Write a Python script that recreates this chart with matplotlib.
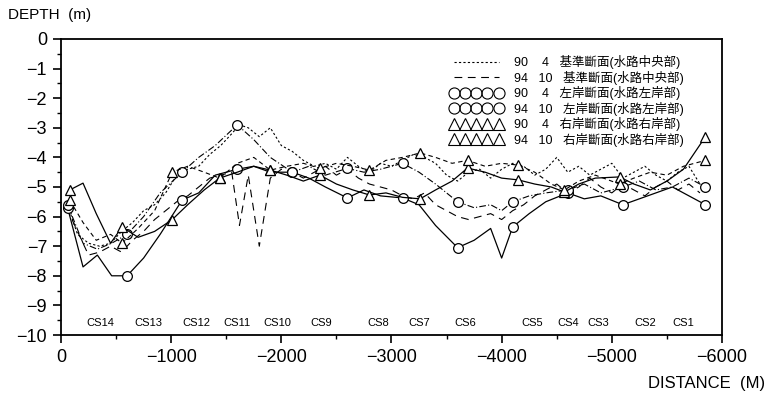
import matplotlib
matplotlib.use("Agg")
import matplotlib.pyplot as plt
from matplotlib.lines import Line2D

# center sections (dense profile)
center_x = [-50, -150, -250, -350, -450, -550, -650, -750, -850, -950, -1050, -1150, -1250, -1350,
            -1450, -1550, -1620, -1700, -1800, -1900, -2000, -2100, -2200, -2300, -2400, -2500,
            -2600, -2700, -2800, -2900, -3000, -3100, -3200, -3300, -3400, -3500, -3600, -3700,
            -3800, -3900, -4000, -4100, -4200, -4300, -4400, -4500, -4600, -4700, -4800, -4900,
            -5000, -5100, -5200, -5300, -5400, -5500, -5600, -5700, -5800]
center_90 = [-5.5, -6.6, -6.9, -7.0, -6.9, -6.5, -6.2, -5.8, -5.6, -5.2, -4.6, -4.4, -4.3, -3.9,
             -3.6, -3.2, -2.9, -3.0, -3.3, -3.0, -3.6, -3.8, -4.1, -4.3, -4.2, -4.4, -4.0, -4.3,
             -4.5, -4.2, -4.3, -4.1, -3.9, -4.0, -4.2, -4.6, -4.8, -4.5, -4.4, -4.7, -4.4, -4.2,
             -4.3, -4.6, -4.4, -4.0, -4.5, -4.3, -4.6, -4.4, -4.2, -4.7, -4.5, -4.3, -4.6, -4.8,
             -4.5, -4.3, -4.9]
center_94 = [-5.7, -6.5, -7.3, -7.2, -7.0, -7.2, -6.8, -6.5, -6.1, -5.8, -5.5, -5.3, -5.0, -4.7,
             -4.6, -4.5, -6.3, -4.6, -7.0, -4.7, -4.4, -4.5, -4.7, -4.5, -4.3, -4.6, -4.4, -4.7,
             -4.9, -5.0, -5.1, -5.3, -5.4, -5.2, -5.6, -5.8, -6.0, -6.1, -6.0, -5.9, -6.1, -5.8,
             -5.6, -5.3, -5.1, -4.9, -5.2, -5.0, -4.7, -5.0, -5.2, -4.9, -5.1, -5.3, -5.0, -4.8,
             -5.1, -4.9, -5.2]

# left bank sections (circles)
left_x = [-60, -200, -330, -460, -600, -750, -900, -1100, -1250, -1400, -1600, -1750, -1900,
          -2100, -2250, -2400, -2600, -2750, -2900, -3100, -3250, -3400, -3600, -3750, -3900,
          -4000, -4100, -4250, -4400, -4600, -4750, -4900, -5100, -5250, -5400, -5550, -5700,
          -5850]
left_90 = [-5.7, -7.7, -7.3, -8.0, -8.0, -7.4, -6.6, -5.44, -5.2, -4.6, -4.4, -4.3, -4.5, -4.5,
           -4.7, -5.0, -5.37, -5.1, -5.3, -5.37, -5.6, -6.3, -7.05, -6.8, -6.4, -7.4, -6.35, -5.9,
           -5.5, -5.2, -5.4, -5.3, -5.6, -5.4, -5.2, -5.0, -5.3, -5.6]
left_94 = [-5.6, -6.9, -7.1, -6.9, -6.6, -6.0, -5.2, -4.5, -4.0, -3.6, -2.9, -3.4, -4.0, -4.5,
           -4.3, -4.6, -4.37, -4.5, -4.4, -4.2, -4.5, -4.9, -5.5, -5.7, -5.6, -5.8, -5.5, -5.3,
           -5.2, -5.1, -4.9, -5.2, -5.0, -4.8, -5.1, -5.0, -4.7, -5.0]
left_marks = [0, 4, 7, 10, 13, 16, 19, 22, 26, 29, 32, 37]

# right bank sections (triangles)
right_x = [-80, -200, -320, -450, -555, -700, -850, -1010, -1150, -1300, -1440, -1600, -1750,
           -1900, -2050, -2200, -2350, -2500, -2650, -2800, -2950, -3100, -3260, -3400, -3550,
           -3690, -3850, -4000, -4150, -4300, -4450, -4570, -4700, -4850, -5070, -5200, -5350,
           -5500, -5650, -5850]
right_90 = [-5.1, -4.87, -5.9, -6.9, -6.35, -6.7, -6.5, -6.1, -5.6, -5.1, -4.7, -4.5, -4.3, -4.43,
            -4.6, -4.8, -4.6, -4.9, -5.1, -5.27, -5.2, -5.35, -5.4, -5.1, -4.8, -4.36, -4.5, -4.7,
            -4.76, -4.9, -5.0, -5.17, -4.9, -4.7, -4.66, -4.9, -5.1, -4.8, -4.4, -3.3]
right_94 = [-5.45, -6.2, -6.8, -6.6, -6.9, -6.4, -5.8, -4.5, -4.3, -4.5, -4.7, -4.2, -4.0, -4.43,
            -4.3, -4.2, -4.37, -4.2, -4.3, -4.43, -4.1, -4.0, -3.85, -4.0, -4.2, -4.1, -4.3, -4.2,
            -4.26, -4.5, -4.9, -5.1, -4.8, -4.6, -4.9, -4.7, -4.5, -4.6, -4.3, -4.1]
right_marks = [0, 4, 7, 10, 13, 16, 19, 22, 25, 28, 31, 34, 39]

cs_names = ["CS14", "CS13", "CS12", "CS11", "CS10", "CS9", "CS8", "CS7", "CS6", "CS5", "CS4",
            "CS3", "CS2", "CS1"]
cs_x = [-354, -790, -1225, -1597, -1960, -2359, -2877, -3249, -3666, -4274, -4601, -4873,
        -5299, -5644]

x_ticks = [0, -1000, -2000, -3000, -4000, -5000, -6000]
x_labels = ["0", "\u22121000", "\u22122000", "\u22123000", "\u22124000", "\u22125000", "\u22126000"]
y_ticks = [0, -1, -2, -3, -4, -5, -6, -7, -8, -9, -10]
y_labels = ["0"] + ["\u2212" + str(i) for i in range(1, 11)]

legend_labels = [
    "90    4   基準斷面(水路中央部)",
    "94   10   基準斷面(水路中央部)",
    "90    4   左岸斷面(水路左岸部)",
    "94   10   左岸斷面(水路左岸部)",
    "90    4   右岸斷面(水路右岸部)",
    "94   10   右岸斷面(水路右岸部)",
]

plt.rcParams['font.family'] = ['Liberation Sans', 'Noto Sans CJK TC', 'DejaVu Sans']

fig = plt.figure(figsize=(7.74, 3.99), dpi=100)
ax = fig.add_axes([0.0788, 0.1604, 0.854, 0.7419])

ax.plot(center_x, center_90, color="k", lw=0.8, dashes=(2, 2))
ax.plot(center_x, center_94, color="k", lw=0.8, dashes=(7, 5))
ax.plot(left_x, left_90, color="k", lw=0.9, marker="o", mfc="white", ms=7, mew=0.9,
        markevery=left_marks)
ax.plot(left_x, left_94, color="k", lw=0.8, dashes=(6, 2, 1, 2), marker="o", mfc="white",
        ms=7, mew=0.9, markevery=left_marks)
ax.plot(right_x, right_90, color="k", lw=0.9, marker="^", mfc="white", ms=7, mew=0.9,
        markevery=right_marks)
ax.plot(right_x, right_94, color="k", lw=0.8, dashes=(4, 3), marker="^", mfc="white", ms=7,
        mew=0.9, markevery=right_marks)

for name, xc in zip(cs_names, cs_x):
    ax.text(xc, -9.6, name, ha="center", va="center", fontsize=8)

ax.set_xlim(0, -6000)
ax.set_ylim(-10, 0)
ax.set_xticks(x_ticks)
ax.set_xticklabels(x_labels)
ax.set_xticks(range(-500, -6000, -1000), minor=True)
ax.set_yticks(y_ticks)
ax.set_yticklabels(y_labels)
ax.set_yticks([y - 0.5 for y in y_ticks[:-1]], minor=True)
ax.tick_params(axis="both", which="major", length=6, width=1.2, labelsize=13, pad=4)
ax.tick_params(axis="both", which="minor", length=3, width=1.0)
for s in ax.spines.values():
    s.set_linewidth(1.3)

handles = [
    Line2D([], [], color="k", lw=0.8, dashes=(2, 2)),
    Line2D([], [], color="k", lw=0.8, dashes=(7, 5)),
    Line2D([], [], color="k", ls="none", marker="o", mfc="none", ms=8, mew=0.8),
    Line2D([], [], color="k", ls="none", marker="o", mfc="none", ms=8, mew=0.8),
    Line2D([], [], color="k", ls="none", marker="^", mfc="none", ms=8, mew=0.8),
    Line2D([], [], color="k", ls="none", marker="^", mfc="none", ms=8, mew=0.8),
]
ax.legend(handles, legend_labels, loc="upper right", bbox_to_anchor=(0.955, 0.975),
          frameon=False, fontsize=9, labelspacing=0.12, handlelength=4.2, handletextpad=0.9,
          numpoints=5, borderpad=0.2)

fig.text(0.010, 0.962, "DEPTH  (m)", fontsize=11, va="center", ha="left")
fig.text(0.988, 0.040, "DISTANCE  (M)", fontsize=12, va="center", ha="right")

fig.savefig("out.png", dpi=100)
